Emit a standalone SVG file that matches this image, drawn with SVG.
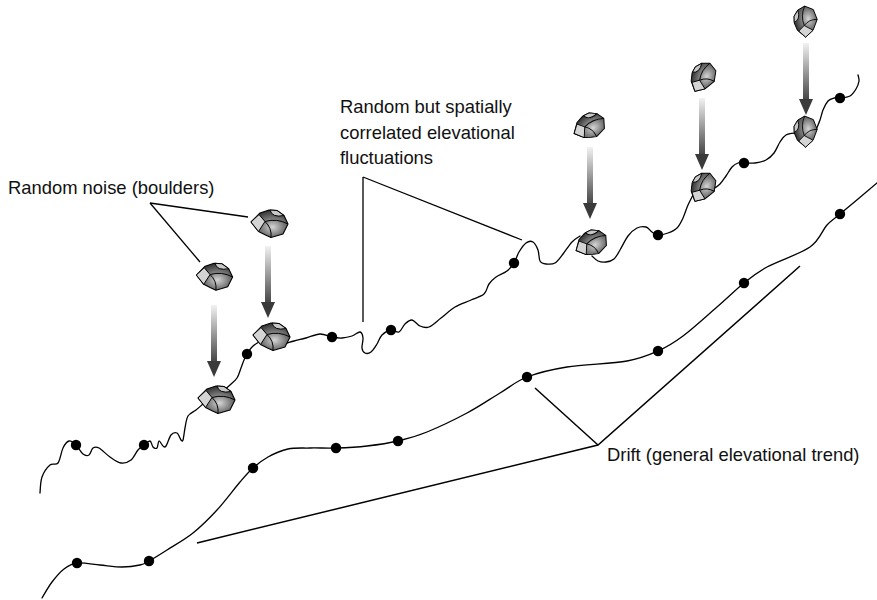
<svg xmlns="http://www.w3.org/2000/svg" xmlns:xlink="http://www.w3.org/1999/xlink" width="877" height="600" viewBox="0 0 877 600">
  <defs>
    <radialGradient id="rock" cx="0.58" cy="0.62" r="0.62">
      <stop offset="0" stop-color="#d6d6d6"/>
      <stop offset="0.5" stop-color="#7a7a7a"/>
      <stop offset="1" stop-color="#2e2e2e"/>
    </radialGradient>
    <linearGradient id="shaft" x1="0" y1="0" x2="0" y2="1">
      <stop offset="0" stop-color="#f2f2f2"/>
      <stop offset="1" stop-color="#454545"/>
    </linearGradient>
    <!-- a single boulder, centred on 0,0 -->
    <g id="boulder">
      <path d="M-18,-2 L-9,-11 L0,-14 L8,-13.5 L15,-8.5 L19,0 L14,10 L2,13.5 L-3.5,11 L-10.5,7.5 Z" fill="url(#rock)" stroke="#000" stroke-width="1.1" stroke-linejoin="round"/>
      <path d="M-18,-2 L-10,-9.5 L-4,-2.5 L-10.5,7.5 Z" fill="#d4d4d4" stroke="#000" stroke-width="1" stroke-linejoin="round"/>
      <path d="M1,-14 Q3,-6 15,-8.5 L8,-13.5 Z" fill="#c8c8c8" stroke="#000" stroke-width="1" stroke-linejoin="round"/>
      <path d="M-4,-2.5 Q8,-6 19,0" fill="none" stroke="#000" stroke-width="1"/>
      <path d="M-4,-2.5 Q3,4 2,13.5" fill="none" stroke="#000" stroke-width="1"/>
    </g>
    <!-- falling arrow, 72 px long, tip at y=72 -->
    <g id="drop">
      <rect x="-3" y="0" width="6" height="57" fill="url(#shaft)"/>
      <polygon points="-7,56 7,56 0,72" fill="#3a3a3a"/>
    </g>
  </defs>
  <style>
    .terrain { fill: none; stroke: #000; stroke-width: 1.3; stroke-linecap: round; stroke-linejoin: round; }
    .lead { fill: none; stroke: #000; stroke-width: 1.3; }
    .drift { fill: none; stroke: #000; stroke-width: 1.5; }
    .pt { fill: #000; }
    .lbl { font-family: "Liberation Sans", Arial, sans-serif; font-size: 18.4px; fill: #111; }
  </style>

  <rect width="877" height="600" fill="#fff"/>

  <!-- drift trend (lower smooth profile) -->
  <g id="drift-profile">
    <path class="terrain" d="M42,598 C43.7,595.3 48.3,586.8 52,582 S59.8,572.2 64,569 S71,563.7 77,563 S92.5,564.3 100,565 S115.3,567 122,567 S135.5,566 140,565 S144.5,563.5 149,561 S159.7,554.7 167,550 S184.7,539.7 193,533 S209.2,518.5 217,510 S234,489 240,482 S248.3,472.2 253,468 S262.2,460.2 268,457 S281,450.5 288,449 S302,448.2 310,448 S326.5,448.3 336,448 S356.7,447.2 367,446 S388,443.3 398,441 S415.5,436.7 427,432 S454.8,419.5 467,413 S490,399 500,393 S515.8,381.3 527,377 S550.3,369.7 567,367 S611.8,363.7 627,361 S648.7,355.2 658,351 S673.2,343.3 683,336 S706.8,315.8 717,307 S735.7,289.7 744,283 S756,273 767,267 S800,254 810,247 S822,230.5 827,225 S831.7,221 840,214 S870.8,188.2 877,183"/>
    <circle class="pt" cx="77" cy="563" r="5.2"/>
    <circle class="pt" cx="149" cy="561" r="5.2"/>
    <circle class="pt" cx="253" cy="468" r="5.2"/>
    <circle class="pt" cx="336" cy="448" r="5.2"/>
    <circle class="pt" cx="398" cy="441" r="5.2"/>
    <circle class="pt" cx="527" cy="377" r="5.2"/>
    <circle class="pt" cx="658" cy="351" r="5.2"/>
    <circle class="pt" cx="744" cy="283" r="5.2"/>
    <circle class="pt" cx="840" cy="214" r="5.2"/>
  </g>

  <!-- observed surface (upper wiggly profile) -->
  <g id="surface-profile">
    <path class="terrain" d="M40,493 C40.3,490.3 40.3,481.7 42,477 S47.3,467.3 50,465 S55.8,465.8 58,463 S61.2,451.7 63,448 S66.8,441.5 69,441 S73.7,442.8 76,445 S80.8,452.3 83,454 S87.3,456 89,455 S91.3,449.2 93,448 S96.2,446.5 99,448 S106.3,454.5 110,457 S117.5,462.5 121,463 S128.2,462.2 131,460 S135.8,452.5 138,450 S142,446.5 144,445 S148.5,440.7 150,441 S151.8,445.8 153,447 S156,449 157,448 S158,441.3 159,441 S161.8,445.2 163,446 S164.7,447.8 166,446 S169.2,437.2 171,435 S175.3,432.2 177,433 S180,438.8 181,440 S182.3,442 183,440 S184.2,432 185,428 S186.2,419 188,416 S193.5,412 196,410 S201.8,405 203,404 L212,398
      M222,392 C223.3,390.8 227.5,387.3 230,385 S235.2,380.8 237,378 S239.8,371 241,368 S243,362.3 244,360 S245.7,356.2 247,354 S250,349 252,347 S256.7,343.3 259,342 S264.8,339.5 266,339
      M276,345 C277.3,344.8 281,344.7 284,344 S290.3,342 294,341 S301.7,339.2 306,338 S315.7,334.2 320,334 S328.3,336.3 332,337 S338.7,338.2 342,338 S349,337 352,336 S358.2,331.7 360,332 S362.7,335.3 363,338 S361.7,345.5 362,348 S363.5,352.3 365,353 S369,353.5 371,352 S375.2,346.8 377,344 S379.7,337.3 382,335 S388.2,330.5 391,330 S396.7,333 399,332 S402.8,326 405,324 S409.5,319.7 412,320 S417.2,324.8 420,326 S425.5,328.3 429,327 S436.7,321.3 441,318 S450,310 455,307 S466.2,302.2 471,300 S481,296.7 484,294 S487,286.8 489,284 S493,279.2 496,277 S504,273.3 507,271 S512,266.2 514,263 S517,255.3 519,252 S523.7,244.7 526,243 S531,240.8 533,242 S536.8,246.8 538,250 S538.7,258.7 540,261 S543.5,263.7 546,264 S552.2,264.7 555,263 S560.2,257.5 563,254 S569.2,245 572,242 S578.7,237 580,236
      M592,256 C593,256.8 595.7,260 598,261 S603.3,262.3 606,262 S611.7,261 614,259 S617.7,253.8 620,250 S625.2,239.7 628,236 S634,229.5 637,228 S643.5,226.3 646,227 S650,230.7 652,232 S655.3,234.8 658,235 S664.8,234.2 668,233 S674.5,230.5 677,228 S681.2,221.8 683,218 S686.3,208.8 688,205 S692.2,196.7 693,195
      M713,189 C714.2,188.2 717.8,186.2 720,184 S724,178.8 726,176 S730,169.2 732,167 S736,163.7 738,163 S741.2,163 744,163 S751.3,163.5 755,163 S762.8,161.7 766,160 S771.7,156 774,153 S778,145 780,142 S783.3,136.5 786,135 S794.3,133.3 796,133
      M816,130 C816.7,128.3 818.8,123.3 820,120 S821.7,113.2 823,110 S826.2,103 828,101 S832,98.5 834,98 S837.3,98.3 840,98 S847.3,97.5 850,96 S854.5,91.5 856,89 S858.7,83.3 859,81 S858.2,76 858,75"/>
    <circle class="pt" cx="76" cy="445" r="5.2"/>
    <circle class="pt" cx="144" cy="445" r="5.2"/>
    <circle class="pt" cx="247" cy="354" r="5.2"/>
    <circle class="pt" cx="332" cy="337" r="5.2"/>
    <circle class="pt" cx="391" cy="330" r="5.2"/>
    <circle class="pt" cx="514" cy="263" r="5.2"/>
    <circle class="pt" cx="658" cy="235" r="5.2"/>
    <circle class="pt" cx="744" cy="163" r="5.2"/>
    <circle class="pt" cx="840" cy="98" r="5.2"/>
  </g>

  <!-- leader lines and drift bracket -->
  <g id="connectors">
    <line class="lead" x1="150" y1="203" x2="200" y2="262"/>
    <line class="lead" x1="150" y1="203" x2="248" y2="217"/>
    <line class="lead" x1="363" y1="177" x2="363" y2="322"/>
    <line class="lead" x1="363" y1="177" x2="522" y2="240"/>
    <polyline class="drift" points="197,543 598,445 800,266"/>
    <line class="drift" x1="535" y1="388" x2="598" y2="445"/>
    <use xlink:href="#drop" href="#drop" x="214" y="305"/>
    <use xlink:href="#drop" href="#drop" x="268" y="246"/>
    <use xlink:href="#drop" href="#drop" x="590" y="147"/>
    <use xlink:href="#drop" href="#drop" x="702" y="98"/>
    <use xlink:href="#drop" href="#drop" x="806" y="43"/>
  </g>

  <!-- boulders: falling and landed -->
  <g id="boulder-fall-1"><use xlink:href="#boulder" href="#boulder" transform="translate(214,277) scale(0.98)"/></g>
  <g id="boulder-fall-2"><use xlink:href="#boulder" href="#boulder" transform="translate(269,224) scale(1)"/></g>
  <g id="boulder-land-1"><use xlink:href="#boulder" href="#boulder" transform="translate(216,400) scale(1)"/></g>
  <g id="boulder-land-2"><use xlink:href="#boulder" href="#boulder" transform="translate(271,337) scale(1)"/></g>
  <g id="boulder-fall-3"><use xlink:href="#boulder" href="#boulder" transform="translate(589,127) rotate(-30) scale(0.9)"/></g>
  <g id="boulder-land-3"><use xlink:href="#boulder" href="#boulder" transform="translate(591,244) rotate(-30) scale(0.9)"/></g>
  <g id="boulder-fall-4"><use xlink:href="#boulder" href="#boulder" transform="translate(703,78) rotate(-65) scale(0.86)"/></g>
  <g id="boulder-land-4"><use xlink:href="#boulder" href="#boulder" transform="translate(703,188) rotate(-65) scale(0.86)"/></g>
  <g id="boulder-fall-5"><use xlink:href="#boulder" href="#boulder" transform="translate(806,22) rotate(-95) scale(0.84)"/></g>
  <g id="boulder-land-5"><use xlink:href="#boulder" href="#boulder" transform="translate(806,132) rotate(-95) scale(0.84)"/></g>

  <!-- labels -->
  <g id="labels">
    <text class="lbl" x="8" y="194">Random noise (boulders)</text>
    <text class="lbl" x="340" y="113">Random but spatially</text>
    <text class="lbl" x="340" y="139">correlated elevational</text>
    <text class="lbl" x="340" y="164">fluctuations</text>
    <text class="lbl" x="607" y="461">Drift (general elevational trend)</text>
  </g>
</svg>
